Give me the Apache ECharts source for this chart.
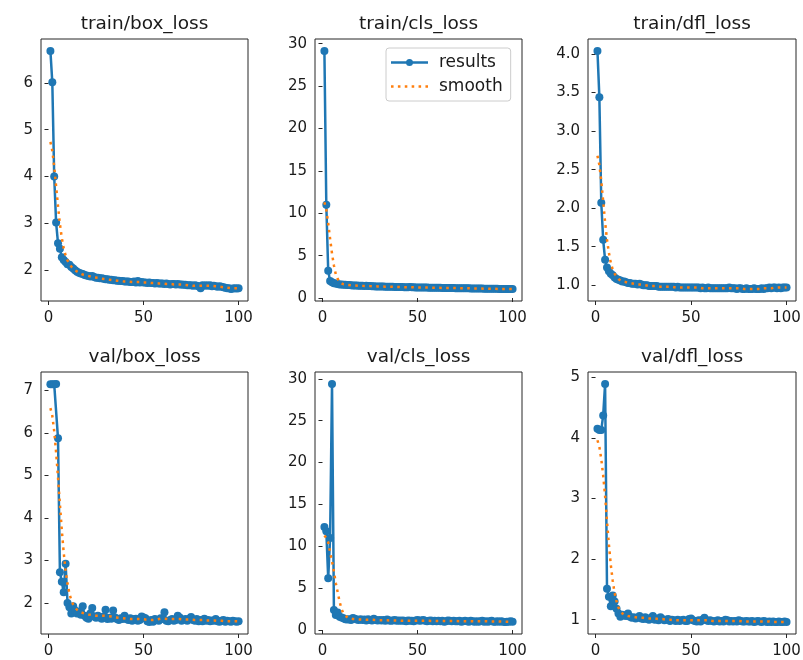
<!DOCTYPE html>
<html>
<head>
<meta charset="utf-8">
<script src="https://cdn.jsdelivr.net/npm/echarts@6.0.0/dist/echarts.min.js"></script>
<style>
html, body { margin: 0; padding: 0; background: #fff; }
#main { width: 803px; height: 660px; }
</style>
</head>
<body>
<div id="main"></div>
<script>
// epochs 1..100
var epochs = [];
for (var e = 1; e <= 100; e++) epochs.push(e);

var xTicks = [0, 50, 100];

var trainBox = [6.68, 6.01, 4.00, 3.02, 2.58, 2.46, 2.28, 2.22, 2.18, 2.13,
    2.12, 2.07, 2.04, 2.00, 1.97, 1.95, 1.93, 1.92, 1.90, 1.89,
    1.88, 1.87, 1.88, 1.86, 1.84, 1.84, 1.83, 1.83, 1.82, 1.81,
    1.81, 1.80, 1.80, 1.79, 1.79, 1.78, 1.78, 1.77, 1.77, 1.76,
    1.76, 1.76, 1.75, 1.75, 1.76, 1.74, 1.77, 1.74, 1.75, 1.74,
    1.74, 1.73, 1.74, 1.73, 1.73, 1.72, 1.73, 1.72, 1.72, 1.72,
    1.71, 1.72, 1.71, 1.70, 1.71, 1.71, 1.70, 1.71, 1.70, 1.70,
    1.69, 1.69, 1.68, 1.68, 1.68, 1.67, 1.68, 1.67, 1.66, 1.62,
    1.68, 1.67, 1.68, 1.67, 1.68, 1.66, 1.67, 1.66, 1.65, 1.66,
    1.65, 1.64, 1.63, 1.62, 1.62, 1.60, 1.61, 1.62, 1.61, 1.62];
var trainBoxSmooth = [4.74, 4.55, 4.21, 3.79, 3.37, 2.99, 2.69, 2.47, 2.32, 2.21,
    2.14, 2.08, 2.04, 2.00, 1.97, 1.95, 1.93, 1.91, 1.90, 1.89,
    1.88, 1.87, 1.86, 1.85, 1.84, 1.84, 1.83, 1.82, 1.82, 1.81,
    1.80, 1.80, 1.79, 1.79, 1.78, 1.78, 1.77, 1.77, 1.77, 1.76,
    1.76, 1.76, 1.75, 1.75, 1.75, 1.75, 1.75, 1.75, 1.75, 1.74,
    1.74, 1.74, 1.73, 1.73, 1.73, 1.73, 1.72, 1.72, 1.72, 1.72,
    1.72, 1.71, 1.71, 1.71, 1.71, 1.70, 1.70, 1.70, 1.70, 1.70,
    1.69, 1.69, 1.68, 1.68, 1.68, 1.67, 1.67, 1.67, 1.67, 1.67,
    1.67, 1.67, 1.67, 1.67, 1.67, 1.67, 1.66, 1.66, 1.66, 1.65,
    1.65, 1.64, 1.63, 1.63, 1.62, 1.62, 1.62, 1.62, 1.62, 1.62];

var trainCls = [29.15, 11.00, 3.20, 2.00, 1.85, 1.75, 1.70, 1.65, 1.60, 1.58,
    1.56, 1.55, 1.54, 1.52, 1.50, 1.48, 1.47, 1.46, 1.45, 1.44,
    1.43, 1.42, 1.45, 1.41, 1.40, 1.39, 1.38, 1.37, 1.37, 1.36,
    1.35, 1.35, 1.34, 1.33, 1.33, 1.32, 1.32, 1.31, 1.30, 1.30,
    1.29, 1.29, 1.28, 1.28, 1.27, 1.30, 1.26, 1.26, 1.25, 1.25,
    1.24, 1.24, 1.24, 1.23, 1.23, 1.22, 1.22, 1.21, 1.21, 1.20,
    1.20, 1.20, 1.19, 1.19, 1.18, 1.18, 1.18, 1.17, 1.17, 1.16,
    1.16, 1.16, 1.15, 1.15, 1.14, 1.14, 1.14, 1.13, 1.13, 1.12,
    1.12, 1.12, 1.11, 1.11, 1.10, 1.10, 1.10, 1.09, 1.09, 1.08,
    1.08, 1.08, 1.07, 1.07, 1.06, 1.06, 1.06, 1.05, 1.05, 1.05];
var trainClsSmooth = [11.29, 10.39, 8.82, 6.98, 5.24, 3.84, 2.79, 2.25, 1.86, 1.70,
    1.62, 1.57, 1.54, 1.52, 1.50, 1.48, 1.47, 1.46, 1.45, 1.44,
    1.43, 1.42, 1.42, 1.41, 1.40, 1.39, 1.38, 1.37, 1.37, 1.36,
    1.35, 1.35, 1.34, 1.33, 1.33, 1.32, 1.32, 1.31, 1.30, 1.30,
    1.29, 1.29, 1.28, 1.28, 1.28, 1.27, 1.27, 1.26, 1.25, 1.25,
    1.24, 1.24, 1.24, 1.23, 1.23, 1.22, 1.22, 1.21, 1.21, 1.20,
    1.20, 1.20, 1.19, 1.19, 1.18, 1.18, 1.18, 1.17, 1.17, 1.16,
    1.16, 1.16, 1.15, 1.15, 1.14, 1.14, 1.14, 1.13, 1.13, 1.12,
    1.12, 1.12, 1.11, 1.11, 1.10, 1.10, 1.10, 1.09, 1.09, 1.08,
    1.08, 1.08, 1.07, 1.07, 1.06, 1.06, 1.06, 1.05, 1.05, 1.05];

var trainDfl = [4.04, 3.44, 2.07, 1.59, 1.33, 1.23, 1.18, 1.15, 1.13, 1.10,
    1.08, 1.07, 1.06, 1.05, 1.05, 1.04, 1.03, 1.03, 1.02, 1.02,
    1.02, 1.01, 1.02, 1.01, 1.00, 1.00, 1.00, 0.99, 0.99, 0.99,
    0.99, 0.99, 0.98, 0.98, 0.98, 0.98, 0.98, 0.98, 0.98, 0.98,
    0.98, 0.97, 0.98, 0.97, 0.97, 0.97, 0.97, 0.97, 0.97, 0.97,
    0.97, 0.97, 0.97, 0.97, 0.96, 0.97, 0.96, 0.96, 0.97, 0.96,
    0.96, 0.96, 0.96, 0.96, 0.96, 0.96, 0.96, 0.96, 0.96, 0.97,
    0.96, 0.96, 0.96, 0.95, 0.96, 0.96, 0.95, 0.95, 0.96, 0.95,
    0.95, 0.95, 0.96, 0.95, 0.95, 0.95, 0.96, 0.95, 0.96, 0.96,
    0.97, 0.96, 0.97, 0.97, 0.96, 0.97, 0.96, 0.97, 0.97, 0.97];
var trainDflSmooth = [2.68, 2.56, 2.35, 2.09, 1.82, 1.59, 1.42, 1.29, 1.20, 1.15,
    1.11, 1.08, 1.07, 1.05, 1.05, 1.04, 1.03, 1.03, 1.02, 1.02,
    1.02, 1.01, 1.01, 1.01, 1.00, 1.00, 1.00, 0.99, 0.99, 0.99,
    0.99, 0.99, 0.98, 0.98, 0.98, 0.98, 0.98, 0.98, 0.98, 0.98,
    0.98, 0.97, 0.97, 0.97, 0.97, 0.97, 0.97, 0.97, 0.97, 0.97,
    0.97, 0.97, 0.97, 0.97, 0.97, 0.96, 0.96, 0.96, 0.96, 0.96,
    0.96, 0.96, 0.96, 0.96, 0.96, 0.96, 0.96, 0.96, 0.96, 0.96,
    0.96, 0.96, 0.96, 0.96, 0.96, 0.96, 0.95, 0.95, 0.95, 0.95,
    0.95, 0.95, 0.95, 0.95, 0.95, 0.95, 0.95, 0.96, 0.96, 0.96,
    0.96, 0.96, 0.96, 0.97, 0.97, 0.97, 0.97, 0.97, 0.97, 0.97];

var valBox = [7.14, 7.14, 7.14, 7.15, 5.87, 2.72, 2.50, 2.25, 2.92, 2.00,
    1.90, 1.75, 1.92, 1.82, 1.75, 1.80, 1.72, 1.92, 1.70, 1.65,
    1.63, 1.75, 1.88, 1.68, 1.65, 1.70, 1.66, 1.63, 1.68, 1.84,
    1.62, 1.65, 1.63, 1.82, 1.66, 1.62, 1.60, 1.64, 1.62, 1.70,
    1.62, 1.60, 1.64, 1.58, 1.62, 1.63, 1.58, 1.60, 1.68, 1.66,
    1.64, 1.57, 1.55, 1.60, 1.56, 1.62, 1.60, 1.58, 1.64, 1.62,
    1.78, 1.58, 1.57, 1.60, 1.62, 1.58, 1.60, 1.70, 1.66, 1.58,
    1.60, 1.62, 1.58, 1.63, 1.67, 1.60, 1.58, 1.62, 1.57, 1.60,
    1.57, 1.63, 1.58, 1.60, 1.57, 1.59, 1.58, 1.62, 1.57, 1.56,
    1.58, 1.60, 1.56, 1.58, 1.57, 1.56, 1.58, 1.57, 1.56, 1.57];
var valBoxSmooth = [6.58, 6.40, 6.04, 5.54, 4.95, 4.32, 3.71, 3.18, 2.76, 2.45,
    2.22, 2.06, 1.96, 1.89, 1.84, 1.80, 1.78, 1.76, 1.75, 1.74,
    1.73, 1.72, 1.72, 1.71, 1.70, 1.70, 1.70, 1.70, 1.70, 1.70,
    1.69, 1.69, 1.68, 1.67, 1.66, 1.65, 1.65, 1.64, 1.64, 1.63,
    1.63, 1.62, 1.62, 1.62, 1.62, 1.62, 1.62, 1.62, 1.62, 1.62,
    1.61, 1.61, 1.60, 1.60, 1.60, 1.60, 1.61, 1.62, 1.63, 1.63,
    1.63, 1.63, 1.62, 1.62, 1.62, 1.62, 1.62, 1.62, 1.62, 1.62,
    1.61, 1.61, 1.61, 1.61, 1.61, 1.61, 1.60, 1.60, 1.60, 1.60,
    1.60, 1.59, 1.59, 1.59, 1.59, 1.59, 1.59, 1.58, 1.58, 1.58,
    1.58, 1.58, 1.57, 1.57, 1.57, 1.57, 1.57, 1.57, 1.57, 1.57];

var valCls = [12.3, 11.8, 6.2, 11.0, 29.4, 2.4, 1.8, 2.1, 1.6, 1.5,
    1.4, 1.3, 1.25, 1.3, 1.2, 1.45, 1.35, 1.25, 1.2, 1.3,
    1.2, 1.25, 1.15, 1.3, 1.2, 1.15, 1.35, 1.2, 1.15, 1.2,
    1.15, 1.2, 1.1, 1.25, 1.15, 1.1, 1.15, 1.2, 1.1, 1.15,
    1.1, 1.15, 1.1, 1.05, 1.15, 1.1, 1.1, 1.05, 1.15, 1.2,
    1.1, 1.15, 1.2, 1.1, 1.05, 1.1, 1.15, 1.05, 1.1, 1.05,
    1.1, 1.05, 1.1, 1.0, 1.05, 1.15, 1.1, 1.05, 1.1, 1.05,
    1.05, 1.1, 1.0, 1.05, 1.1, 1.05, 1.0, 1.1, 1.05, 1.0,
    1.05, 1.0, 1.05, 1.1, 1.0, 1.05, 1.0, 1.05, 1.1, 1.0,
    1.0, 1.05, 1.0, 1.05, 1.0, 0.95, 1.0, 1.0, 1.05, 1.0];
var valClsSmooth = [11.3, 11.0, 10.5, 9.3, 8.2, 7.0, 5.6, 4.5, 3.4, 2.5,
    2.0, 1.7, 1.5, 1.4, 1.35, 1.32, 1.30, 1.28, 1.27, 1.26,
    1.25, 1.24, 1.23, 1.23, 1.22, 1.22, 1.21, 1.20, 1.19, 1.18,
    1.17, 1.17, 1.16, 1.16, 1.15, 1.15, 1.14, 1.14, 1.13, 1.13,
    1.12, 1.12, 1.11, 1.11, 1.11, 1.11, 1.11, 1.11, 1.12, 1.12,
    1.12, 1.12, 1.12, 1.11, 1.10, 1.10, 1.09, 1.09, 1.08, 1.08,
    1.08, 1.07, 1.07, 1.07, 1.07, 1.07, 1.07, 1.07, 1.07, 1.07,
    1.06, 1.06, 1.06, 1.06, 1.06, 1.05, 1.05, 1.05, 1.05, 1.05,
    1.04, 1.04, 1.04, 1.04, 1.04, 1.04, 1.04, 1.04, 1.04, 1.03,
    1.03, 1.02, 1.02, 1.01, 1.01, 1.00, 1.00, 1.00, 1.01, 1.01];

var valDfl = [4.15, 4.13, 4.13, 4.37, 4.89, 1.51, 1.38, 1.22, 1.40, 1.30,
    1.18, 1.10, 1.05, 1.08, 1.07, 1.06, 1.10, 1.05, 1.03, 1.04,
    1.02, 1.03, 1.06, 1.02, 1.01, 1.04, 1.01, 1.00, 1.03, 1.06,
    1.00, 1.02, 0.99, 1.04, 1.01, 0.99, 1.00, 1.01, 0.98, 1.00,
    0.99, 0.98, 1.00, 0.98, 0.99, 1.00, 0.98, 0.98, 1.01, 1.02,
    0.99, 0.98, 0.97, 0.99, 0.97, 1.00, 1.03, 0.99, 0.98, 0.99,
    0.98, 0.97, 0.98, 0.99, 0.97, 0.98, 0.97, 1.00, 0.99, 0.97,
    0.98, 0.97, 0.98, 0.97, 0.99, 0.98, 0.97, 0.97, 0.98, 0.97,
    0.97, 0.98, 0.96, 0.97, 0.98, 0.97, 0.96, 0.98, 0.97, 0.96,
    0.97, 0.96, 0.97, 0.96, 0.96, 0.97, 0.96, 0.96, 0.97, 0.96];
var valDflSmooth = [3.96, 3.85, 3.65, 3.38, 3.04, 2.62, 2.24, 1.90, 1.64, 1.44,
    1.30, 1.20, 1.13, 1.10, 1.08, 1.07, 1.06, 1.05, 1.05, 1.04,
    1.04, 1.03, 1.03, 1.03, 1.03, 1.02, 1.02, 1.02, 1.02, 1.02,
    1.02, 1.01, 1.01, 1.01, 1.01, 1.00, 1.00, 1.00, 1.00, 1.00,
    0.99, 0.99, 0.99, 0.99, 0.99, 0.99, 0.99, 0.99, 0.99, 0.99,
    0.99, 0.99, 0.99, 0.99, 0.99, 0.99, 0.99, 0.99, 0.99, 0.99,
    0.98, 0.98, 0.98, 0.98, 0.98, 0.98, 0.98, 0.98, 0.98, 0.98,
    0.98, 0.98, 0.98, 0.98, 0.98, 0.98, 0.97, 0.97, 0.97, 0.97,
    0.97, 0.97, 0.97, 0.97, 0.97, 0.97, 0.97, 0.97, 0.97, 0.97,
    0.97, 0.97, 0.96, 0.96, 0.96, 0.96, 0.96, 0.96, 0.96, 0.96];

var panels = [
    {title: 'train/box_loss', res: trainBox, smooth: trainBoxSmooth, yTicks: [2, 3, 4, 5, 6], dec: 0, left: 41, top: 39, width: 207},
    {title: 'train/cls_loss', res: trainCls, smooth: trainClsSmooth, yTicks: [0, 5, 10, 15, 20, 25, 30], dec: 0, left: 315, top: 39, width: 207},
    {title: 'train/dfl_loss', res: trainDfl, smooth: trainDflSmooth, yTicks: [1.0, 1.5, 2.0, 2.5, 3.0, 3.5, 4.0], dec: 1, left: 588, top: 39, width: 208},
    {title: 'val/box_loss', res: valBox, smooth: valBoxSmooth, yTicks: [2, 3, 4, 5, 6, 7], dec: 0, left: 41, top: 372, width: 207},
    {title: 'val/cls_loss', res: valCls, smooth: valClsSmooth, yTicks: [0, 5, 10, 15, 20, 25, 30], dec: 0, left: 315, top: 372, width: 207},
    {title: 'val/dfl_loss', res: valDfl, smooth: valDflSmooth, yTicks: [1, 2, 3, 4, 5], dec: 0, left: 588, top: 372, width: 208}
];

var plotH = 262;
var blue = '#1f77b4';
var orange = '#ff7f0e';
var frameColor = '#262626';
var textColor = '#1a1a1a';
var font = 'DejaVu Sans';

// legend icons: line with a dot, and a dotted line
var resultsIcon = 'path://M0,2.75h37v2.5h-37z M15,4A3.5,3.5 0 1 1 22,4A3.5,3.5 0 1 1 15,4z';
var smoothIcon = 'path://M0,0h2.6v2.6h-2.6z M7,0h2.6v2.6h-2.6z M14,0h2.6v2.6h-2.6z M21,0h2.6v2.6h-2.6z M28,0h2.6v2.6h-2.6z M35,0h2.6v2.6h-2.6z';

function pad(v) {
    var r = v.max - v.min;
    return {lo: v.min - r * 0.05, hi: v.max + r * 0.05};
}

var grids = [], xAxes = [], yAxes = [], series = [], graphics = [];

panels.forEach(function (p, i) {
    grids.push({
        left: p.left, top: p.top, width: p.width, height: plotH,
        show: true, borderColor: frameColor, borderWidth: 1,
        backgroundColor: 'transparent', outerBoundsMode: 'none', containLabel: false
    });
    xAxes.push({
        type: 'value', gridIndex: i,
        min: function (v) { return pad(v).lo; },
        max: function (v) { return pad(v).hi; },
        axisLine: {show: false},
        splitLine: {show: false},
        axisTick: {show: true, customValues: xTicks, length: 4, lineStyle: {color: frameColor}},
        axisLabel: {customValues: xTicks, margin: 10, color: textColor, fontSize: 15, fontFamily: font}
    });
    yAxes.push({
        type: 'value', gridIndex: i,
        min: function (v) { return pad(v).lo; },
        max: function (v) { return pad(v).hi; },
        axisLine: {show: false},
        splitLine: {show: false},
        axisTick: {show: true, customValues: p.yTicks, length: 4, lineStyle: {color: frameColor}},
        axisLabel: {
            customValues: p.yTicks, margin: 8, color: textColor, fontSize: 15, fontFamily: font,
            formatter: (function (d) { return function (v) { return v.toFixed(d); }; })(p.dec)
        }
    });
    series.push({
        name: 'results', type: 'line', xAxisIndex: i, yAxisIndex: i,
        data: epochs.map(function (x, k) { return [x, p.res[k]]; }),
        symbol: 'circle', symbolSize: 8, showSymbol: true,
        itemStyle: {color: blue},
        lineStyle: {color: blue, width: 2.5},
        emphasis: {disabled: true}, animation: false, z: 2
    });
    series.push({
        name: 'smooth', type: 'line', xAxisIndex: i, yAxisIndex: i,
        data: epochs.map(function (x, k) { return [x, p.smooth[k]]; }),
        symbol: 'none', showSymbol: false,
        itemStyle: {color: orange},
        lineStyle: {color: orange, width: 2.5, type: [2.6, 4.4], cap: 'butt'},
        emphasis: {disabled: true}, animation: false, z: 3
    });
    graphics.push({
        type: 'text',
        x: p.left + p.width / 2,
        y: p.top - 15,
        style: {
            text: p.title, fill: textColor, fontSize: 18.5, fontFamily: font,
            textAlign: 'center', textVerticalAlign: 'middle'
        }
    });
});

var chart = echarts.init(document.getElementById('main'), null, {renderer: 'canvas'});
chart.setOption({
    backgroundColor: '#fff',
    animation: false,
    grid: grids,
    xAxis: xAxes,
    yAxis: yAxes,
    series: series,
    graphic: graphics,
    legend: {
        data: [
            {name: 'results', icon: resultsIcon},
            {name: 'smooth', icon: smoothIcon}
        ],
        orient: 'vertical',
        left: 386, top: 48,
        itemWidth: 37, itemHeight: 14, itemGap: 7,
        symbolKeepAspect: true,
        padding: [6, 8, 6, 5],
        borderColor: '#cccccc', borderWidth: 1, borderRadius: 3,
        backgroundColor: 'rgba(255,255,255,0.8)',
        textStyle: {fontSize: 17, fontFamily: font, color: textColor, padding: [0, 0, 0, 6]},
        selectedMode: false
    }
});
</script>
</body>
</html>
